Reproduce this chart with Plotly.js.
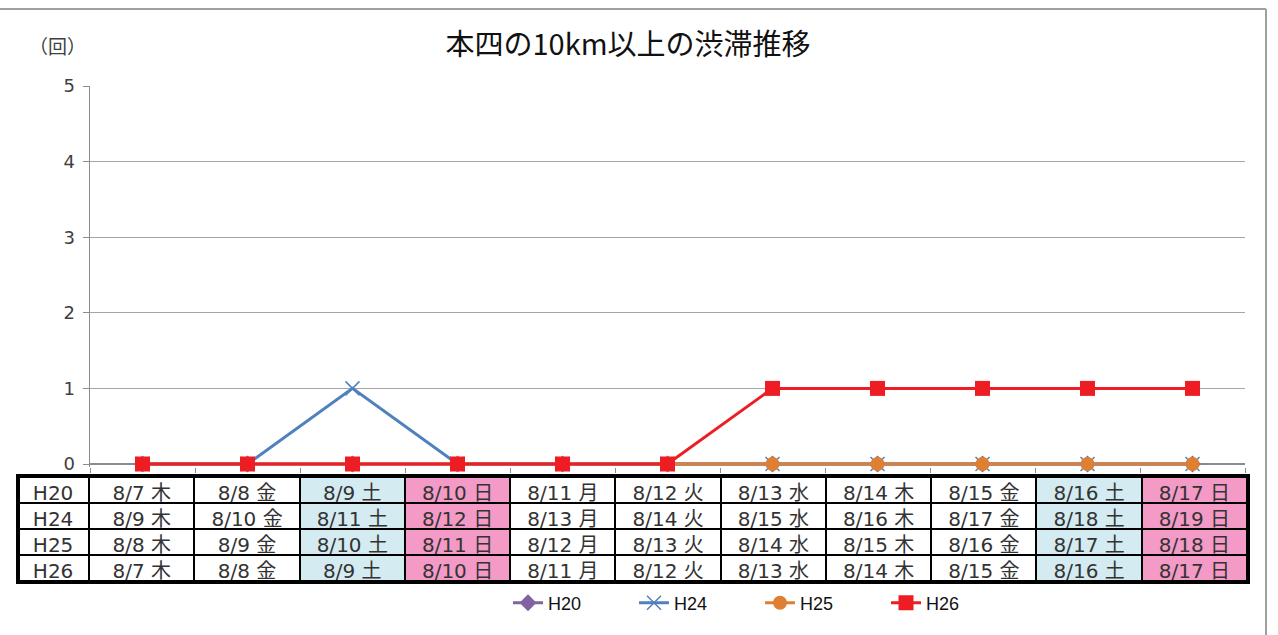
<!DOCTYPE html>
<html>
<head>
<meta charset="utf-8">
<script src="https://cdn.plot.ly/plotly-3.0.1.min.js"></script>
<style>html,body{margin:0;padding:0;background:#fff;}#chart{width:1278px;height:635px;}</style>
</head>
<body>
<div id="chart"></div>
<script>
// ---- data ----
const categories = ['d1','d2','d3','d4','d5','d6','d7','d8','d9','d10','d11'];
const weekdays = ['木','金','土','日','月','火','水','木','金','土','日'];
const seriesNames = ['H20','H24','H25','H26'];
const valuesH20 = [0,0,0,0,0,0,0,0,0,0,0];
const valuesH24 = [0,0,1,0,0,0,0,0,0,0,0];
const valuesH25 = [0,0,0,0,0,0,0,0,0,0,0];
const valuesH26 = [0,0,0,0,0,0,1,1,1,1,1];
const datesH20 = ['8/7','8/8','8/9','8/10','8/11','8/12','8/13','8/14','8/15','8/16','8/17'];
const datesH24 = ['8/9','8/10','8/11','8/12','8/13','8/14','8/15','8/16','8/17','8/18','8/19'];
const datesH25 = ['8/8','8/9','8/10','8/11','8/12','8/13','8/14','8/15','8/16','8/17','8/18'];
const datesH26 = ['8/7','8/8','8/9','8/10','8/11','8/12','8/13','8/14','8/15','8/16','8/17'];
const yTicks = [0,1,2,3,4,5];

// ---- layout geometry ----
const W = 1278, H = 635;
const mL = 17, mR = 28, mT = 86, mB = 51;
const pw = W - mL - mR, ph = H - mT - mB;
const px = v => (v - mL) / pw;          // page x -> paper
const py = v => (H - mB - v) / ph;      // page y -> paper
const yPad = 0.04;                      // small pad below 0 so the 0-line is not clipped
const unitPx = (464 - 86) / 5;

const font = '"Noto Sans CJK JP", "Noto Sans", sans-serif';
const colors = {H20:'#8064A2', H24:'#4F81BD', H25:'#DF7F32', H26:'#EE1D24'};
const satColor = '#d3ebf1', sunColor = '#f39ac6';
const dayFill = d => d === '土' ? satColor : (d === '日' ? sunColor : '#ffffff');

const traces = [
  {x: categories, y: valuesH20, name: 'H20', mode: 'lines+markers', type: 'scatter', cliponaxis: false,
   line: {color: colors.H20, width: 3}, marker: {symbol: 'diamond', size: 13, color: colors.H20}},
  {x: categories, y: valuesH24, name: 'H24', mode: 'lines+markers', type: 'scatter', cliponaxis: false,
   line: {color: colors.H24, width: 3}, marker: {symbol: 'x-thin', size: 14, color: colors.H24, line: {color: colors.H24, width: 1.5}}},
  {x: categories, y: valuesH25, name: 'H25', mode: 'lines+markers', type: 'scatter', cliponaxis: false,
   line: {color: colors.H25, width: 3}, marker: {symbol: 'circle', size: 14, color: colors.H25}},
  {x: categories, y: valuesH26, name: 'H26', mode: 'lines+markers', type: 'scatter', cliponaxis: false,
   line: {color: colors.H26, width: 3}, marker: {symbol: 'square', size: 15, color: colors.H26}}
];

// ---- table ----
const dateRows = [datesH20, datesH24, datesH25, datesH26];
const labelCol = seriesNames;
const cols = [labelCol];
for (let c = 0; c < categories.length; c++) {
  cols.push(dateRows.map(r => r[c] + ' ' + weekdays[c]));
}
const fills = [labelCol.map(() => '#ffffff')];
for (let c = 0; c < categories.length; c++) fills.push(dateRows.map(() => dayFill(weekdays[c])));

const rowH = 26;
const tblFont = {family: '"DejaVu Sans", "Noto Sans CJK JP", sans-serif', size: 20, color: '#333'};
traces.push({
  type: 'table',
  domain: {x: [px(17), px(1247)], y: [py(582), py(477)]},
  columnwidth: [72].concat(categories.map(() => 105)),
  header: {
    values: cols.map(c => c[0]),
    fill: {color: fills.map(f => [f[0]])},
    line: {color: '#000', width: 2},
    align: 'center', height: rowH,
    font: tblFont
  },
  cells: {
    values: cols.map(c => c.slice(1)),
    fill: {color: fills.map(f => f.slice(1))},
    line: {color: '#000', width: 2},
    align: 'center', height: rowH,
    font: tblFont
  },
  showlegend: false
});

const layout = {
  width: W, height: H,
  margin: {l: mL, r: mR, t: mT, b: mB, autoexpand: false},
  paper_bgcolor: '#fff', plot_bgcolor: '#fff',
  font: {family: font, color: '#404040'},
  title: {text: '本四の10km以上の渋滞推移', x: 628 / W, xanchor: 'center', xref: 'container',
          y: 1 - 45 / H, yanchor: 'middle', yref: 'container',
          font: {family: font, size: 29, color: '#111'}},
  xaxis: {domain: [px(90), px(1245)], type: 'category', range: [-0.5, categories.length - 0.5],
          autorange: false, showticklabels: false,
          showgrid: false, showline: false,
          ticks: 'outside', ticklen: 5, tickcolor: '#8c8c8c', tickson: 'boundaries',
          zeroline: false, fixedrange: true},
  yaxis: {domain: [py(464 + yPad * unitPx), 1], range: [-yPad, 5], autorange: false,
          tickvals: yTicks, ticktext: yTicks.map(String),
          showgrid: true, gridcolor: '#a6a6a6', gridwidth: 1,
          showline: true, linecolor: '#8c8c8c', linewidth: 1.5,
          zeroline: true, zerolinecolor: '#8c8c8c', zerolinewidth: 1.5,
          ticks: 'outside', ticklen: 6, tickcolor: '#8c8c8c', ticklabelstandoff: 4,
          tickfont: {family: '"DejaVu Sans", sans-serif', size: 18, color: '#404040'}, fixedrange: true},
  showlegend: true,
  legend: {orientation: 'h', x: px(508), xanchor: 'left', y: py(603), yanchor: 'middle',
           entrywidth: 81, entrywidthmode: 'pixels',
           font: {family: '"Liberation Sans", sans-serif', size: 18, color: '#111'},
           bgcolor: 'rgba(0,0,0,0)'},
  annotations: [
    {text: '（回）', xref: 'paper', yref: 'paper', x: px(57), y: py(46), xanchor: 'center', yanchor: 'middle',
     showarrow: false, font: {family: font, size: 19, color: '#404040'}}
  ],
  shapes: [
    {type: 'rect', xref: 'paper', yref: 'paper', x0: px(18), x1: px(1248), y0: py(582), y1: py(476),
     line: {color: '#000', width: 4}, fillcolor: 'rgba(0,0,0,0)'},
    {type: 'line', xref: 'paper', yref: 'paper', x0: px(0), x1: px(1266), y0: py(9), y1: py(9),
     line: {color: '#a0a0a0', width: 2}},
    {type: 'line', xref: 'paper', yref: 'paper', x0: px(1266), x1: px(1266), y0: py(9), y1: py(640),
     line: {color: '#a0a0a0', width: 2}}
  ]
};

Plotly.newPlot('chart', traces, layout, {displayModeBar: false, staticPlot: true});
</script>
</body>
</html>
